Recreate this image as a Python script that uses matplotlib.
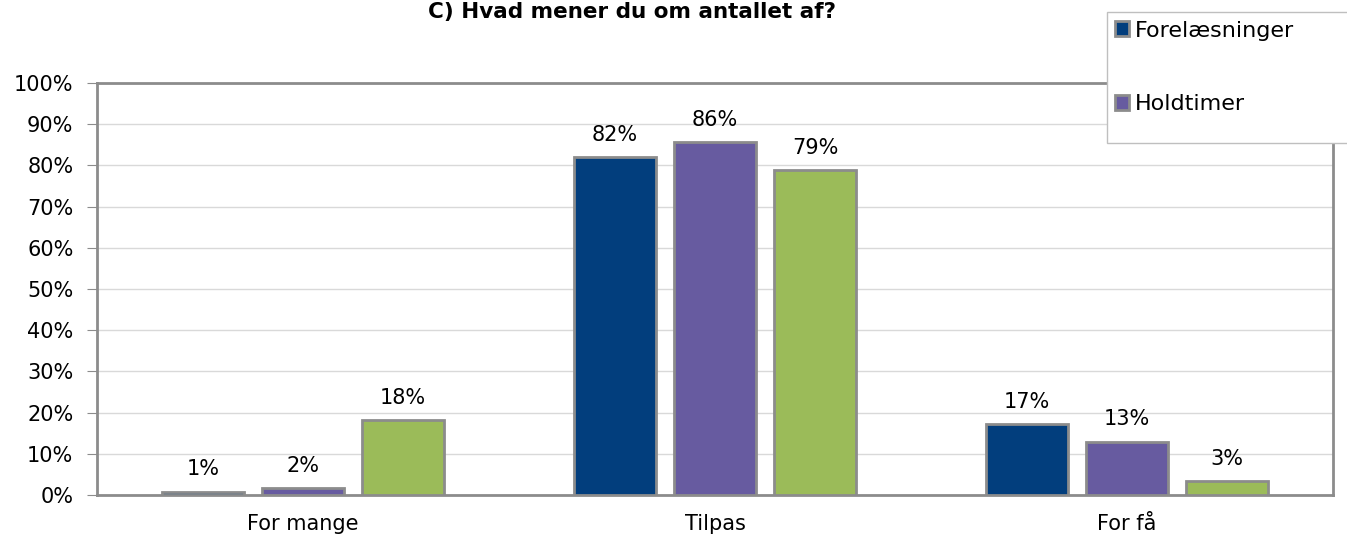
import numpy as np
import matplotlib.pyplot as plt
from matplotlib.patches import Rectangle, Patch

plt.rcParams['font.family'] = ['DejaVu Sans']

categories = ["For mange", "Tilpas", "For få"]
series = ["Forelæsninger", "Holdtimer", ""]
forelaesninger = [0.8, 82.0, 17.2]
holdtimer      = [1.7, 85.7, 12.9]
tredje         = [18.2, 78.9, 3.4]
labels_pct = [[1, 82, 17], [2, 86, 13], [18, 79, 3]]
colors = ["#023E7D", "#675BA0", "#9BBB59"]
yticks = np.arange(0, 101, 10)

fig = plt.figure(figsize=(13.47, 5.42), dpi=100)
ax = fig.add_axes([97/1347, 1 - 495/542, (1333-97)/1347, (495-83)/542])

x = np.arange(len(categories))
w = 0.2
gap = 0.243
for i, vals in enumerate([forelaesninger, holdtimer, tredje]):
    pos = x + (i - 1) * gap
    ax.bar(pos, vals, width=w, color=colors[i], edgecolor="#8C8C8C", linewidth=2, zorder=3)
    for p, v, lab in zip(pos, vals, labels_pct[i]):
        ax.text(p, v + 3, f"{lab}%", ha="center", va="bottom", fontsize=15, color="black")

ax.set_xlim(-0.5, 2.5)
ax.set_ylim(0, 100)
ax.set_yticks(yticks)
ax.set_yticklabels([f"{t}%" for t in yticks], fontsize=15)
ax.set_xticks(x)
ax.set_xticklabels(categories, fontsize=15)
ax.tick_params(axis="x", length=0, pad=14)
ax.tick_params(axis="y", length=7, color="#8C8C8C", pad=10)
ax.grid(axis="y", color="#D9D9D9", linewidth=1, zorder=0)
for s in ax.spines.values():
    s.set_color("#8C8C8C")
    s.set_linewidth(2)

# title sits at the very top edge, as in the original
fig.text(632/1347, 1 - 2/542, "C) Hvad mener du om antallet af?", ha="center", va="top",
         fontsize=15.5, fontweight="bold")

# legend frame runs off the right edge
fig.patches.append(Rectangle((1107/1347, 1 - 143/542), 0.3, (143-12)/542, transform=fig.transFigure,
                             facecolor="white", edgecolor="#BFBFBF", linewidth=1, zorder=5))
handles = [Patch(facecolor=colors[0], edgecolor="#8C8C8C", linewidth=2),
           Patch(facecolor=colors[1], edgecolor="#8C8C8C", linewidth=2)]
leg = fig.legend(handles, series[:2], loc="upper left", bbox_to_anchor=(1108/1347, 1 - 14/542),
                 frameon=False, fontsize=16, handlelength=0.65, handleheight=0.65, handletextpad=0.25,
                 labelspacing=2.4, borderaxespad=0, borderpad=0.3)
leg.set_zorder(6)

fig.savefig("out.png", dpi=100)
